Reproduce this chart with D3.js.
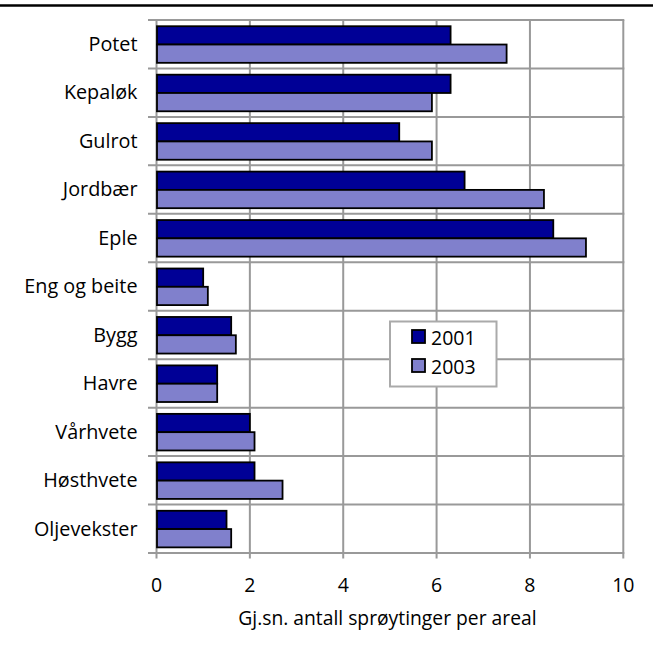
<!DOCTYPE html>
<html>
<head>
<meta charset="utf-8">
<script src="https://cdn.jsdelivr.net/npm/d3@7/dist/d3.min.js"></script>
<style>
  html, body { margin: 0; padding: 0; background: #fff; }
  svg { display: block; }
  text { font-family: "Open Sans", "Noto Sans", sans-serif; fill: #000; }
</style>
</head>
<body>
<svg id="chart" width="653" height="648"></svg>
<script>
const categories = ["Potet", "Kepaløk", "Gulrot", "Jordbær", "Eple", "Eng og beite", "Bygg", "Havre", "Vårhvete", "Høsthvete", "Oljevekster"];
const seriesNames = ["2001", "2003"];
const values2001 = [6.3, 6.3, 5.2, 6.6, 8.5, 1.0, 1.6, 1.3, 2.0, 2.1, 1.5];
const values2003 = [7.5, 5.9, 5.9, 8.3, 9.2, 1.1, 1.7, 1.3, 2.1, 2.7, 1.6];
const xTicks = [0, 2, 4, 6, 8, 10];
const xTitle = "Gj.sn. antall sprøytinger per areal";
const colors = ["#000096", "#8080cc"];

const svg = d3.select("#chart");
const pLeft = 156.5, pRight = 623.3, pTop = 20, pBottom = 553;

// top rule
svg.append("line").attr("x1", 0).attr("x2", 653).attr("y1", 5.5).attr("y2", 5.5)
  .attr("stroke", "#000").attr("stroke-width", 2.5);

const x = d3.scaleLinear().domain([0, 10]).range([pLeft, pRight]);
const y = d3.scaleBand().domain(categories).range([pTop, pBottom]).padding(0);
const bw = y.bandwidth();
const barH = 18.3;
const sub = d3.scaleBand().domain(seriesNames).range([0, barH * 2]);

const gridColor = "#999";
// vertical gridlines (extend below as ticks)
svg.append("g").selectAll("line").data(xTicks).join("line")
  .attr("x1", d => x(d)).attr("x2", d => x(d))
  .attr("y1", pTop).attr("y2", pBottom + 5.5)
  .attr("stroke", gridColor).attr("stroke-width", 2);

// horizontal gridlines at band boundaries (extend left as ticks)
const bounds = categories.map(c => y(c)).concat([pBottom]);
svg.append("g").selectAll("line").data(bounds).join("line")
  .attr("x1", pLeft - 8.5).attr("x2", pRight + 1)
  .attr("y1", d => d).attr("y2", d => d)
  .attr("stroke", gridColor).attr("stroke-width", 2);

// bars
const data = categories.map((c, i) => ({ c, v: [values2001[i], values2003[i]] }));
const groups = svg.append("g").selectAll("g").data(data).join("g")
  .attr("transform", d => `translate(0,${y(d.c) + (bw - barH * 2) / 2 + 0.3})`);
groups.selectAll("rect").data(d => d.v.map((v, k) => ({ v, k }))).join("rect")
  .attr("x", x(0) + 0.5)
  .attr("y", d => sub(seriesNames[d.k]))
  .attr("width", d => x(d.v) - x(0) - 0.5)
  .attr("height", barH)
  .attr("fill", d => colors[d.k])
  .attr("stroke", "#000").attr("stroke-width", 1.8);

// category labels
svg.append("g").selectAll("text").data(categories).join("text")
  .attr("x", 137.5).attr("y", d => y(d) + bw / 2 + 6.8)
  .attr("text-anchor", "end").attr("font-size", 19.8)
  .text(d => d);

// x axis tick labels
svg.append("g").selectAll("text").data(xTicks).join("text")
  .attr("x", d => x(d)).attr("y", 592)
  .attr("text-anchor", "middle").attr("font-size", 19.5)
  .text(d => d);

svg.append("text").attr("x", (pLeft + pRight) / 2 - 2.5).attr("y", 625)
  .attr("text-anchor", "middle").attr("font-size", 19.3).text(xTitle);

// legend
const lg = svg.append("g");
lg.append("rect").attr("x", 390).attr("y", 321.5).attr("width", 106.5).attr("height", 65)
  .attr("fill", "#fff").attr("stroke", "#aaa").attr("stroke-width", 2);
seriesNames.forEach((s, k) => {
  const yy = 330 + k * 29;
  lg.append("rect").attr("x", 412).attr("y", yy).attr("width", 13).attr("height", 13)
    .attr("fill", colors[k]).attr("stroke", "#000").attr("stroke-width", 1.8);
  lg.append("text").attr("x", 431).attr("y", yy + 15).attr("font-size", 19.5).text(s);
});
</script>
</body>
</html>
